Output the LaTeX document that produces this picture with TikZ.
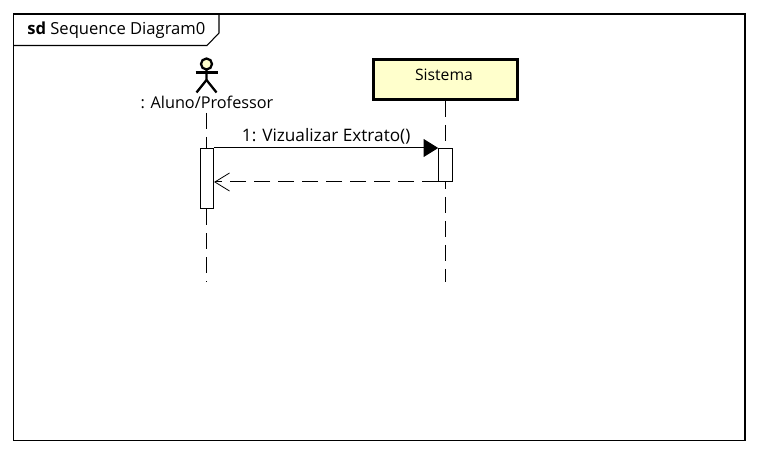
\documentclass[tikz,border=0pt]{standalone}
\usepackage{fontspec}
\setmainfont{Open Sans}
\usetikzlibrary{arrows.meta}
\definecolor{umlyellow}{HTML}{FFFFCC}
\tikzset{
    activation/.style={draw, fill=white, line width=0.75pt, minimum width=10.2pt, inner sep=0pt},
    lifeline/.style={line width=0.9pt, dash pattern=on 12pt off 6pt},
    message/.style={line width=0.75pt},
    txt/.style={inner sep=0pt, font=\fontsize{12.2pt}{14pt}\selectfont}
}
\begin{document}
\begin{tikzpicture}[x=0.75pt, y=-0.75pt]
    \useasboundingbox (0,0) rectangle (758,453);
    \draw[line width=0.8pt] (13.5,14) rectangle (745,440.5);
    \draw[line width=0.8pt] (13.5,45.5) -- (207,45.5) -- (219,33) -- (219,14);
    \node[txt, anchor=west, font=\fontsize{12.45pt}{14pt}\selectfont] (framelabel) at (27,30) {\textbf{sd} Sequence Diagram0};
    % participants
    \node[draw, fill=umlyellow, line width=2.4pt, minimum width=108pt, minimum height=29.5pt, inner sep=0pt] (sistema) at (445.5,79.5) {};
    \node[txt, font=\fontsize{11.8pt}{14pt}\selectfont] (sistemalabel) at (444,75) {Sistema};
    \draw[fill=umlyellow, line width=1.7pt] (206.5,64) circle (5.5);
    \draw[line width=1.7pt] (195.5,72.5) -- (218,72.5);
    \draw[line width=1.7pt] (206.5,69.5) -- (206.5,80) -- (196.5,92.5);
    \draw[line width=1.7pt] (206.5,80) -- (216.5,92.5);
    \node[txt] (aluno) at (207,102) {: Aluno/Professor};
    % lifelines
    \coordinate (alunotop) at (206.5,113);
    \coordinate (alunoend) at (206.5,282);
    \coordinate (sistemaend) at (445.5,282);
    \draw[lifeline] (alunotop) -- (alunoend);
    \draw[lifeline] (sistema.south) -- (sistemaend);
    % activations
    \node[activation, minimum height=45pt] (actaluno) at (206.8,178.5) {};
    \node[activation, minimum height=24.75pt] (actsistema) at (445.5,165) {};
    % messages
    \draw[message, -{Triangle[length=11pt, width=13.5pt]}] (actaluno.north east) -- node[txt, font=\fontsize{12.9pt}{14pt}\selectfont, above=2.5pt] (vizualizar) {1: Vizualizar Extrato()} (actsistema.north west);
    \draw[message, dash pattern=on 12pt off 6pt, -{Straight Barb[length=11pt, width=13.5pt, line width=0.6pt]}] (actsistema.south west) -- (actaluno.east |- actsistema.south west);
\end{tikzpicture}
\end{document}
